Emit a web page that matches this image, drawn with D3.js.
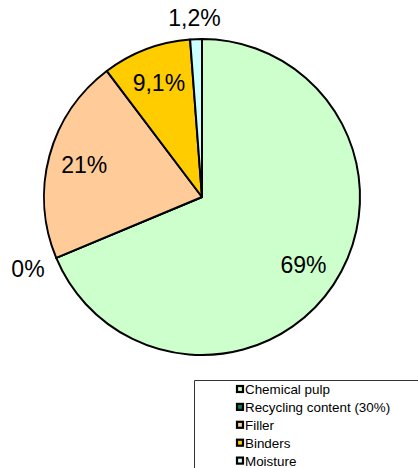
<!DOCTYPE html>
<html>
<head>
<meta charset="utf-8">
<script src="https://cdn.jsdelivr.net/npm/d3@7"></script>
<style>
  body { margin: 0; background: #fff; }
  svg { display: block; font-family: "Liberation Sans", Arial, sans-serif; }
</style>
</head>
<body>
<svg id="chart" width="418" height="468"></svg>
<script>
// composition of the paper, percent
var categories = ['Chemical pulp', 'Recycling content (30%)', 'Filler', 'Binders', 'Moisture'];
var values = [68.7, 0, 21.0, 9.1, 1.2];
var labels = ['69%', '0%', '21%', '9,1%', '1,2%'];
var colors = ['#ccffcc', '#008060', '#ffcc99', '#ffcc00', '#ccffff'];
var outside = [false, true, false, false, true];

var svg = d3.select('#chart'),
    cx = 202, cy = 197, radius = 158;

var data = categories.map(function (c, i) {
    return {name: c, value: values[i], label: labels[i], color: colors[i], outside: outside[i]};
});

var pie = d3.pie().sort(null).value(function (d) { return d.value; });
var arc = d3.arc().innerRadius(0).outerRadius(radius);
var arcs = pie(data);

var g = svg.append('g').attr('transform', 'translate(' + cx + ',' + cy + ')');

g.selectAll('path.slice')
    .data(arcs)
    .enter().append('path')
    .attr('class', 'slice')
    .attr('d', arc)
    .attr('fill', function (d) { return d.data.color; })
    .attr('stroke', '#000')
    .attr('stroke-width', 2)
    .attr('stroke-linejoin', 'round');

// data labels, inside ones on a fixed radius, outside ones pushed out by their box
var insideArc = d3.arc().innerRadius(122).outerRadius(122);
g.selectAll('text.lbl')
    .data(arcs)
    .enter().append('text')
    .attr('class', 'lbl')
    .attr('font-size', 23)
    .attr('text-anchor', 'middle')
    .attr('dy', '0.35em')
    .attr('fill', '#000')
    .text(function (d) { return d.data.label; })
    .attr('transform', function (d) {
        if (!d.data.outside) {
            return 'translate(' + insideArc.centroid(d) + ')';
        }
        var a = (d.startAngle + d.endAngle) / 2;
        var w = this.getComputedTextLength(), h = 18;
        var r = 172;
        var x = Math.sin(a) * r + Math.sin(a) * w / 2;
        var y = -Math.cos(a) * r - Math.cos(a) * h / 2 + 2;
        return 'translate(' + x + ',' + y + ')';
    });

// legend
var legend = svg.append('g').attr('transform', 'translate(194,380)');
legend.append('path')
    .attr('d', 'M0.5,100 V0.5 H230')
    .attr('fill', 'none')
    .attr('stroke', '#333')
    .attr('stroke-width', 1);

var rows = legend.selectAll('g.row')
    .data(data)
    .enter().append('g')
    .attr('class', 'row')
    .attr('transform', function (d, i) { return 'translate(0,' + (9.5 + i * 17.9) + ')'; });

rows.append('rect')
    .attr('x', 43).attr('y', -3.5)
    .attr('width', 6).attr('height', 6)
    .attr('fill', function (d) { return d.color; })
    .attr('stroke', '#000')
    .attr('stroke-width', 2.2);

rows.append('text')
    .attr('x', 51)
    .attr('dy', '0.35em')
    .attr('font-size', 13.4)
    .attr('fill', '#000')
    .text(function (d) { return d.name; });
</script>
</body>
</html>
